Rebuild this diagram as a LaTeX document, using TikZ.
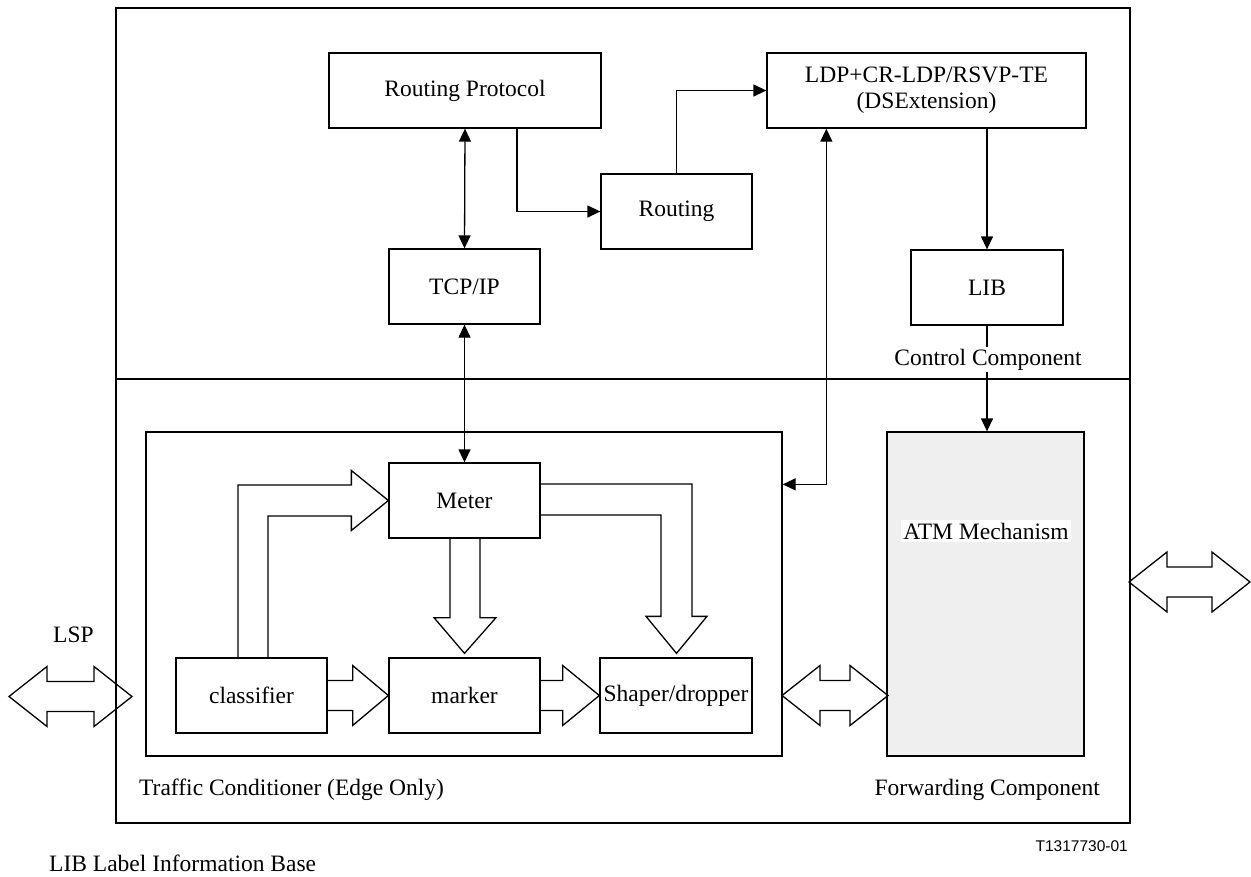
\documentclass[tikz,border=0pt]{standalone}
\usepackage{fontspec}
\setmainfont{Liberation Serif}
\newfontfamily\figsans{Liberation Sans}
\usetikzlibrary{arrows.meta,calc}
\definecolor{atmgray}{RGB}{239,239,239}

\begin{document}
\begin{tikzpicture}[x=1pt,y=-1pt,
  every node/.style={font=\fontsize{23.5}{26}\selectfont},
  frame/.style={draw=black,line width=1.3pt},
  box/.style={draw=black,line width=1.3pt,minimum width=151,minimum height=75,inner sep=0pt,align=center},
  arr/.style={line width=1.3pt,-{Triangle[length=13pt,width=12pt]}},
  biarr/.style={line width=1.3pt,{Triangle[length=13pt,width=12pt]}-{Triangle[length=13pt,width=12pt]}},
  fat/.style={draw=black,line width=1.3pt,line join=miter},
  lbl/.style={inner sep=0pt}
]
\useasboundingbox (0,0) rectangle (1251,876);

% outer frame with control / forwarding split
\draw[frame] (116,8) rectangle (1130,823);
\draw[frame] (116,379) -- (1130,379);

% control component boxes
\node[box,minimum width=272] (rp) at (465,90.5) {Routing Protocol};
\node[box,minimum width=319] (ldp) at (926.5,90.5) {LDP+CR-LDP/RSVP-TE\\(DSExtension)};
\node[box] (routing) at (676.5,211.5) {Routing};
\node[box] (tcp) at (464.5,286.5) {TCP/IP};
\node[box,minimum width=152] (lib) at (987,287.5) {LIB};

% forwarding component boxes
\node[frame,minimum width=636,minimum height=324,inner sep=0pt] (tc) at (464,594) {};
\node[frame,fill=atmgray,minimum width=197,minimum height=324,inner sep=0pt] (atm) at (985.5,594) {};
\node[box] (meter) at (464.5,500.5) {Meter};
\node[box] (classifier) at (251.5,695.5) {classifier};
\node[box] (marker) at (464.5,695.5) {marker};
\node[box,minimum width=152] (shaper) at (676,695.5) {Shaper/dropper};

% thin connectors
\draw[biarr] (rp.south) -- (tcp.north);
\draw[arr] ($(rp.south)+(52,0)$) |- (routing.west);
\draw[arr] (routing.north) |- (ldp.west);
\draw[arr] (ldp.south -| lib.north) -- (lib.north);
\draw[arr] (lib.south) -- (lib.south |- atm.north);
\draw[biarr] (tcp.south) -- (meter.north);
\coordinate (ldpfoot) at ($(ldp.south west)+(60,0)$);
\coordinate (tcjoin) at ($(tc.north east)+(0,53)$);
\draw[biarr] (ldpfoot) |- (tcjoin);

% labels
\node[fill=white,inner sep=2pt,anchor=base] (ctrl) at (988,365) {Control Component};
\node[fill=white,inner xsep=2pt,inner ysep=3pt] (atmlbl) at (986,531) {ATM Mechanism};
\node[lbl,anchor=base west] (lsp) at (53,642) {LSP};
\node[lbl,anchor=base west] (tclbl) at (139,795) {Traffic Conditioner (Edge Only)};
\node[lbl,anchor=base east] (fwd) at (1100,795) {Forwarding Component};
\node[lbl,anchor=base east,font=\figsans\fontsize{15.5}{18}\selectfont] (code) at (1128,851) {T1317730-01};
\node[lbl,anchor=base west] (abbr) at (49,871) {LIB Label Information Base};

% block arrows inside the traffic conditioner
% classifier -> marker
\draw[fat] ($(classifier.east)+(0,-15)$) -- ++(25,0) -- ++(0,-15) -- (marker.west)
  -- ($(classifier.east)+(25,30)$) -- ++(0,-15) -- ($(classifier.east)+(0,15)$);
% marker -> shaper/dropper
\draw[fat] ($(marker.east)+(0,-15)$) -- ++(22,0) -- ++(0,-15) -- (shaper.west)
  -- ($(marker.east)+(22,30)$) -- ++(0,-15) -- ($(marker.east)+(0,15)$);
% classifier -> meter
\draw[fat] ($(classifier.north)+(-13.5,0)$) |- ($(meter.west)+(-37,-15.5)$) -- ++(0,-14.5)
  -- (meter.west) -- ($(meter.west)+(-37,30)$) -- ++(0,-14.5) -| ($(classifier.north)+(16.5,0)$);
% meter -> marker
\draw[fat] ($(meter.south)+(-14.5,0)$) -- ++(0,79) -- ++(-16,0) -- ($(marker.north)+(0,-4)$)
  -- ($(meter.south)+(31.5,79)$) -- ++(-16,0) -- ($(meter.south)+(15.5,0)$);
% meter -> shaper/dropper
\draw[fat] ($(meter.east)+(0,-16.5)$) -| ($(shaper.north)+(16,-41)$) -- ++(15,0)
  -- ($(shaper.north)+(0.5,-4)$) -- ($(shaper.north)+(-30,-41)$) -- ++(15,0)
  |- ($(meter.east)+(0,14.5)$);

% double block arrows
\newcommand{\fatdouble}[3]{%
  \draw[fat] (#1,#3) -- (#1+38,#3-30) -- (#1+38,#3-15) -- (#2-38,#3-15) -- (#2-38,#3-30)
    -- (#2,#3) -- (#2-38,#3+30) -- (#2-38,#3+15) -- (#1+38,#3+15) -- (#1+38,#3+30) -- cycle;}
\fatdouble{9}{132}{696.5}
\fatdouble{782}{888}{695.5}
\fatdouble{1129}{1250}{582}

\end{tikzpicture}
\end{document}
